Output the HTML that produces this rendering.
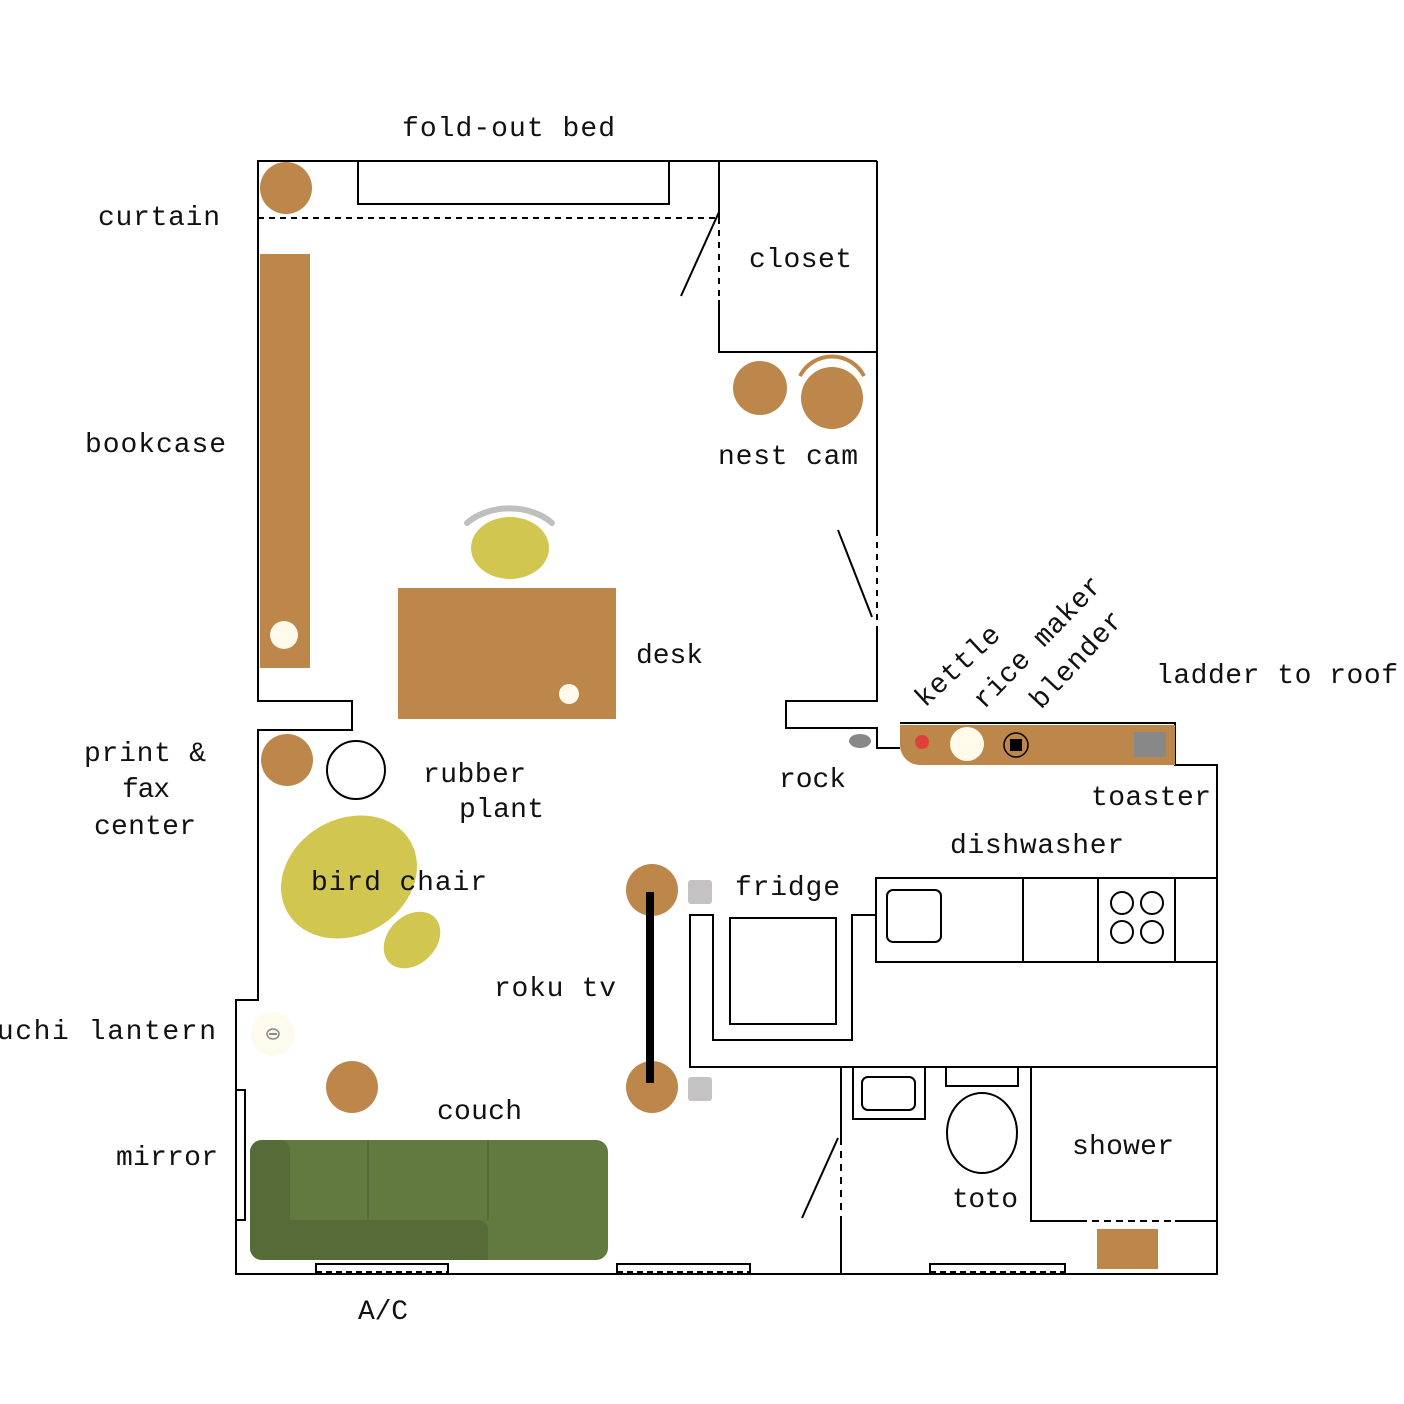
<!DOCTYPE html>
<html><head><meta charset="utf-8"><style>html,body{margin:0;padding:0;background:#fff}svg{display:block}</style></head>
<body>
<svg width="1404" height="1404" viewBox="0 0 1404 1404" xmlns="http://www.w3.org/2000/svg">
<g fill="none" stroke="#000" stroke-width="2">
<polyline points="877,161 258,161 258,701 352,701 352,730 258,730 258,1000 236,1000 236,1274 1217,1274 1217,765 1175,765 1175,723 900,723"/>
<polyline points="877,161 877,530"/>
<polyline points="877,630 877,701 786,701 786,728 877,728 877,748 900,748"/>
<line x1="877" y1="530" x2="877" y2="630" stroke-dasharray="6,6"/>
<line x1="838" y1="530" x2="872" y2="617"/>
<polyline points="719,161 719,218"/>
<line x1="719" y1="218" x2="719" y2="300" stroke-dasharray="6,6"/>
<polyline points="719,300 719,352 877,352"/>
<line x1="719" y1="212" x2="681" y2="296"/>
<line x1="258" y1="218" x2="719" y2="218" stroke-dasharray="6,5"/>
<rect x="358" y="161" width="311" height="43"/>
<rect x="876" y="878" width="341" height="84"/>
<line x1="1023" y1="878" x2="1023" y2="962"/>
<line x1="1098" y1="878" x2="1098" y2="962"/>
<line x1="1175" y1="878" x2="1175" y2="962"/>
<rect x="887" y="890" width="54" height="52" rx="6"/>
<circle cx="1122" cy="903" r="11"/><circle cx="1152" cy="903" r="11"/>
<circle cx="1122" cy="932" r="11"/><circle cx="1152" cy="932" r="11"/>
<polyline points="876,915 852,915 852,1040 713,1040 713,915 690,915 690,1067 1217,1067"/>
<rect x="730" y="918" width="106" height="106"/>
<line x1="841" y1="1067" x2="841" y2="1138"/>
<line x1="841" y1="1138" x2="841" y2="1221" stroke-dasharray="7,6"/>
<line x1="841" y1="1221" x2="841" y2="1274"/>
<line x1="838" y1="1138" x2="802" y2="1218"/>
<rect x="853" y="1067" width="72" height="52"/>
<rect x="862" y="1077" width="53" height="33" rx="6"/>
<rect x="946" y="1067" width="72" height="19"/>
<ellipse cx="982" cy="1133" rx="35" ry="40"/>
<polyline points="1031,1067 1031,1221 1080,1221"/>
<line x1="1080" y1="1221" x2="1175" y2="1221" stroke-dasharray="7,5"/>
<line x1="1175" y1="1221" x2="1217" y2="1221"/>
<polyline points="316,1274 316,1264 448,1264 448,1274"/>
<line x1="316" y1="1272" x2="448" y2="1272" stroke-dasharray="6,4"/>
<polyline points="617,1274 617,1264 750,1264 750,1274"/>
<line x1="617" y1="1272" x2="750" y2="1272" stroke-dasharray="6,4"/>
<polyline points="930,1274 930,1264 1065,1264 1065,1274"/>
<line x1="930" y1="1272" x2="1065" y2="1272" stroke-dasharray="6,4"/>
<rect x="236" y="1090" width="9" height="130"/>
<circle cx="356" cy="770" r="29"/>
</g>
<g fill="#bd864a">
<circle cx="286" cy="188" r="26"/>
<rect x="260" y="254" width="50" height="414"/>
<rect x="398" y="588" width="218" height="131"/>
<circle cx="760" cy="388" r="27"/>
<circle cx="832" cy="398" r="31"/>
<circle cx="287" cy="760" r="26"/>
<circle cx="352" cy="1087" r="26"/>
<circle cx="652" cy="890" r="26"/>
<circle cx="652" cy="1087" r="26"/>
<path d="M900,725 H1175 V765 H920 A20,20 0 0 1 900,745 Z"/>
<rect x="1097" y="1229" width="61" height="40"/>
</g>
<path d="M800,376 A36,36 0 0 1 864,376" fill="none" stroke="#bd864a" stroke-width="4"/>
<path d="M467,523 A55,40 0 0 1 552,523" fill="none" stroke="#bfbfbf" stroke-width="6" stroke-linecap="round"/>
<circle cx="284" cy="635" r="14" fill="#fffaea"/>
<circle cx="569" cy="694" r="10" fill="#fffaea"/>
<ellipse cx="510" cy="548" rx="39" ry="31" fill="#d0c650"/>
<ellipse cx="349" cy="877" rx="71" ry="58" transform="rotate(-30 349 877)" fill="#d0c650"/>
<ellipse cx="412" cy="940" rx="32" ry="24" transform="rotate(-45 412 940)" fill="#d0c650"/>
<circle cx="273" cy="1034" r="22" fill="#fdfbee"/>
<ellipse cx="273" cy="1034" rx="6" ry="5" fill="none" stroke="#888" stroke-width="1.5"/>
<line x1="269" y1="1034" x2="277" y2="1034" stroke="#666" stroke-width="1.5"/>
<line x1="650" y1="892" x2="650" y2="1083" stroke="#000" stroke-width="8"/>
<rect x="688" y="880" width="24" height="24" rx="3" fill="#c4c2c2"/>
<rect x="688" y="1077" width="24" height="24" rx="3" fill="#c4c2c2"/>
<ellipse cx="860" cy="741" rx="11" ry="7" fill="#888"/>
<circle cx="922" cy="742" r="7" fill="#e0403a"/>
<circle cx="967" cy="744" r="17" fill="#fffaea"/>
<circle cx="1016" cy="745" r="12" fill="none" stroke="#000" stroke-width="1.5"/>
<rect x="1010" y="739" width="12" height="12" fill="#000"/>
<rect x="1134" y="732" width="32" height="25" fill="#888"/>
<rect x="250" y="1140" width="358" height="120" rx="12" fill="#627a40"/>
<path d="M250,1152 A12,12 0 0 1 262,1140 H280 A10,10 0 0 1 290,1150 V1220 H478 A10,10 0 0 1 488,1230 V1260 H262 A12,12 0 0 1 250,1248 Z" fill="#566b38"/>
<line x1="368" y1="1140" x2="368" y2="1220" stroke="#566b38" stroke-width="2"/>
<line x1="488" y1="1140" x2="488" y2="1220" stroke="#566b38" stroke-width="2"/>
<g font-family="Liberation Mono, DejaVu Sans Mono, monospace" font-size="28" fill="#111" lengthAdjust="spacing">
<text x="402" y="136" textLength="213">fold-out bed</text>
<text x="98" y="225" textLength="122">curtain</text>
<text x="749" y="267" textLength="103">closet</text>
<text x="85" y="452" textLength="141">bookcase</text>
<text x="718" y="464" textLength="140">nest cam</text>
<text x="636" y="663" textLength="67">desk</text>
<text x="1156" y="683" textLength="242">ladder to roof</text>
<text x="84" y="761" textLength="122">print &amp;</text>
<text x="122" y="797" textLength="48">fax</text>
<text x="94" y="834" textLength="102">center</text>
<text x="423" y="782" textLength="103">rubber</text>
<text x="459" y="817" textLength="85">plant</text>
<text x="779" y="787" textLength="67">rock</text>
<text x="1091" y="805" textLength="120">toaster</text>
<text x="950" y="853" textLength="174">dishwasher</text>
<text x="311" y="890" textLength="176">bird chair</text>
<text x="735" y="895" textLength="105">fridge</text>
<text x="494" y="996" textLength="122">roku tv</text>
<text x="-40" y="1039" textLength="256">oguchi lantern</text>
<text x="437" y="1119" textLength="85">couch</text>
<text x="116" y="1165" textLength="102">mirror</text>
<text x="1072" y="1154" textLength="102">shower</text>
<text x="952" y="1207" textLength="66">toto</text>
<text x="358" y="1319" textLength="50">A/C</text>
<text x="0" y="0" textLength="105" transform="translate(925,708) rotate(-43)">kettle</text>
<text x="0" y="0" textLength="172" transform="translate(984,710) rotate(-46)">rice maker</text>
<text x="0" y="0" textLength="122" transform="translate(1041,710) rotate(-47)">blender</text>
</g>
</svg>
</body></html>
